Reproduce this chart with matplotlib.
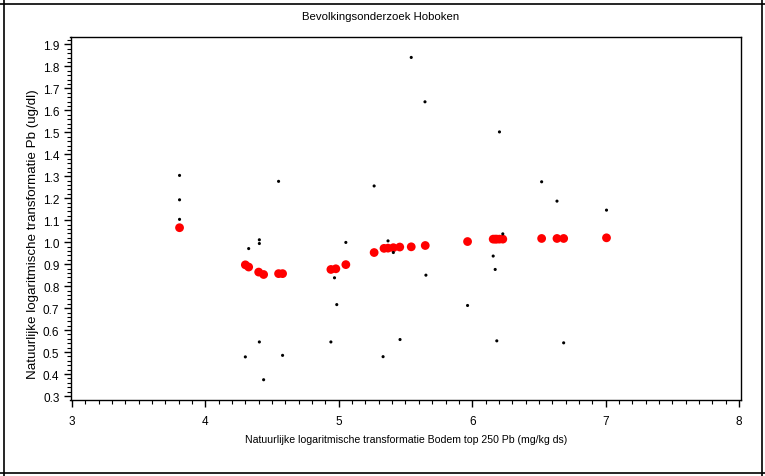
import matplotlib
matplotlib.use("Agg")
import matplotlib.pyplot as plt
from matplotlib.lines import Line2D
from matplotlib.ticker import MultipleLocator, FixedLocator

plt.rcParams['font.family'] = ['Liberation Sans Narrow', 'Liberation Sans', 'DejaVu Sans']

title = "Bevolkingsonderzoek Hoboken"
xlabel = "Natuurlijke logaritmische transformatie Bodem top 250 Pb (mg/kg ds)"
ylabel = "Natuurlijke logaritmische transformatie Pb (ug/dl)"

# observed values (black dots)
obs_x = [3.807, 3.807, 3.807, 4.30, 4.325, 4.405, 4.405, 4.405, 4.437, 4.549, 4.579,
         4.941, 4.968, 4.985, 5.053, 5.265, 5.332, 5.369, 5.409, 5.459, 5.543, 5.646, 5.653,
         5.965, 6.157, 6.172, 6.184, 6.204, 6.229, 6.52, 6.635, 6.685, 7.006]
obs_y = [1.304, 1.193, 1.104, 0.478, 0.971, 1.011, 0.994, 0.546, 0.374, 1.277, 0.485,
         0.546, 0.838, 0.716, 0.999, 1.256, 0.479, 1.006, 0.953, 0.557, 1.841, 1.639, 0.850,
         0.712, 0.937, 0.876, 0.551, 1.502, 1.038, 1.275, 1.187, 0.542, 1.146]

# predicted values (red dots)
pred_x = [3.807, 4.30, 4.325, 4.40, 4.437, 4.549, 4.579, 4.941, 4.978, 5.053, 5.265,
          5.339, 5.369, 5.409, 5.457, 5.543, 5.648, 5.965, 6.157, 6.172, 6.184, 6.204,
          6.229, 6.52, 6.635, 6.685, 7.006]
pred_y = [1.066, 0.897, 0.887, 0.864, 0.853, 0.857, 0.857, 0.876, 0.879, 0.898, 0.953,
          0.972, 0.973, 0.975, 0.978, 0.979, 0.985, 1.003, 1.014, 1.014, 1.014, 1.014,
          1.014, 1.017, 1.017, 1.017, 1.020]

xticks = [3, 4, 5, 6, 7, 8]
yticks = [0.3, 0.4, 0.5, 0.6, 0.7, 0.8, 0.9, 1.0, 1.1, 1.2, 1.3, 1.4, 1.5, 1.6, 1.7, 1.8, 1.9]

W, H = 765, 477
fig = plt.figure(figsize=(W / 100, H / 100), dpi=100)
ax = fig.add_axes([70.5 / W, 1 - 401 / H, (740.5 - 70.5) / W, (401 - 38) / H])

ax.scatter(pred_x, pred_y, s=40, color='#ff0000', edgecolors='none', zorder=3)
ax.scatter(obs_x, obs_y, s=5, color='black', edgecolors='none', zorder=4)

ax.set_xlim(2.99, 8.01)
ax.set_ylim(0.2818, 1.934)
ax.xaxis.set_major_locator(FixedLocator(xticks))
ax.yaxis.set_major_locator(FixedLocator(yticks))
ax.xaxis.set_minor_locator(MultipleLocator(0.1))
ax.yaxis.set_minor_locator(MultipleLocator(0.02))
ax.set_xticklabels([str(v) for v in xticks])
ax.set_yticklabels([f"{v:.1f}" for v in yticks])
ax.tick_params(which='major', direction='out', length=5, width=1, labelsize=8.5, pad=3)
ax.tick_params(which='minor', direction='out', length=3, width=0.8)
ax.tick_params(axis='x', pad=5.5)
for sp in ax.spines.values():
    sp.set_linewidth(1.0)

fig.text(381 / W, 1 - 17 / H, title, ha='center', va='center', fontsize=8.2)
fig.text(406 / W, 1 - 440 / H, xlabel, ha='center', va='center', fontsize=7.6)
fig.text(33 / W, 1 - 234 / H, ylabel, ha='center', va='center', rotation=90, fontsize=9.6)

# outer frame lines
def fl(x0, y0, x1, y1):
    fig.add_artist(Line2D([x0 / W, x1 / W], [1 - y0 / H, 1 - y1 / H], color='black', lw=1.2,
                          transform=fig.transFigure))

fl(0, 5, W, 5)
fl(4, 0, 4, H)
fl(762, 0, 762, H)
fl(0, 474, W, 474)

fig.savefig("out.png", dpi=100, facecolor='white')
